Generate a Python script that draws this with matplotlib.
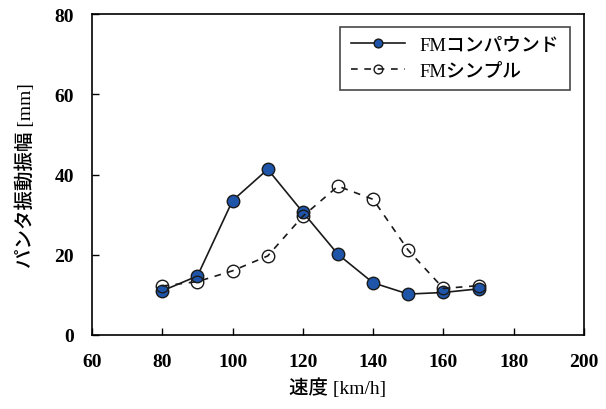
import numpy as np
import matplotlib
matplotlib.use('Agg')
import matplotlib.pyplot as plt

plt.rcParams['font.family'] = ['Liberation Serif', 'Noto Sans CJK JP', 'DejaVu Sans']

speed = [80, 90, 100, 110, 120, 130, 140, 150, 160, 170]
compound = [11.0, 14.7, 33.5, 41.3, 30.6, 20.1, 13.0, 10.2, 10.6, 11.5]
simple = [12.2, 13.3, 16.0, 19.7, 29.6, 37.1, 33.8, 21.1, 11.6, 12.3]

xticks = [60, 80, 100, 120, 140, 160, 180, 200]
yticks = [0, 20, 40, 60, 80]

fig = plt.figure(figsize=(6.06, 4.10), dpi=100)
ax = fig.add_axes([0.1518, 0.1805, 0.8119, 0.7829])

ax.plot(speed, compound, '-', color='#1a1a1a', lw=1.2, marker='o', ms=9,
        mfc='#1f55a8', mec='#1a1a1a', mew=1.0, label='FMコンパウンド')
ax.plot(speed, simple, '--', color='#1a1a1a', lw=1.2, marker='o', ms=9,
        mfc='none', mec='#1a1a1a', mew=1.0, label='FMシンプル', dashes=(4, 4))

ax.set_xlim(60, 200)
ax.set_ylim(0, 80)
ax.set_xticks(xticks)
ax.set_yticks(yticks)
ax.tick_params(direction='in', length=5, width=1, labelsize=14, pad=13)
for lab in ax.get_xticklabels() + ax.get_yticklabels():
    lab.set_fontweight('bold')
for s in ax.spines.values():
    s.set_linewidth(1.2)

ax.set_xlabel('速度 [km/h]', fontsize=14, fontweight='medium', labelpad=5)
ax.set_ylabel('パンタ振動振幅 [mm]', fontsize=14, fontweight='medium', labelpad=14)

leg = ax.legend(loc='upper right', bbox_to_anchor=(0.99, 0.99),
                prop={'size': 13.5, 'weight': 'medium'},
                frameon=True, fancybox=False, edgecolor='#1a1a1a',
                handlelength=2.9, borderpad=0.55, labelspacing=0.45, markerscale=0.7)
leg.get_frame().set_linewidth(1.2)

fig.savefig('out.png', dpi=100)
